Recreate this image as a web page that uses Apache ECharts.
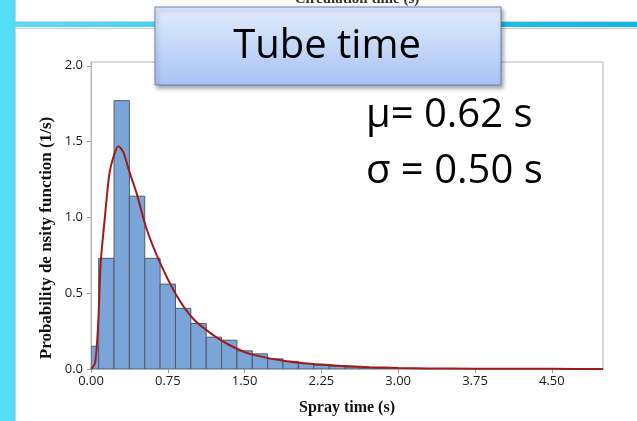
<!DOCTYPE html>
<html>
<head>
<meta charset="utf-8">
<script src="https://cdn.jsdelivr.net/npm/echarts@6/dist/echarts.min.js"></script>
<style>
html, body { margin: 0; padding: 0; background: #fff; }
#main { width: 637px; height: 421px; }
</style>
</head>
<body>
<div id="main"></div>
<script>
// histogram bins: left / right edges (s) and density (1/s)
var binLeft  = [0, 0.075, 0.225, 0.375, 0.525, 0.675, 0.825, 0.975, 1.125, 1.275, 1.425, 1.575,
                1.725, 1.875, 2.025, 2.175, 2.325, 2.475, 2.625, 2.775, 2.925, 3.075, 3.225];
var binRight = [0.075, 0.225, 0.375, 0.525, 0.675, 0.825, 0.975, 1.125, 1.275, 1.425, 1.575, 1.725,
                1.875, 2.025, 2.175, 2.325, 2.475, 2.625, 2.775, 2.925, 3.075, 3.225, 3.375];
var density  = [0.15, 0.73, 1.77, 1.14, 0.73, 0.56, 0.40, 0.30, 0.21, 0.19, 0.12, 0.10,
                0.067, 0.05, 0.036, 0.025, 0.017, 0.012, 0.006, 0.004, 0.003, 0.002, 0.001];

// fitted curve
var curveX = [0.0, 0.04, 0.07, 0.095, 0.137, 0.18, 0.22, 0.267, 0.315, 0.38, 0.445, 0.545,
              0.675, 0.84, 1.0, 1.2, 1.36, 1.55, 1.85, 2.14, 2.43, 2.72, 3.0, 3.3, 3.75, 4.5, 5.0];
var curveY = [0.0, 0.04, 0.30, 0.70, 1.01, 1.29, 1.40, 1.47, 1.43, 1.29, 1.16, 0.92,
              0.70, 0.48, 0.33, 0.22, 0.155, 0.10, 0.058, 0.034, 0.021, 0.012, 0.007, 0.004, 0.002, 0.001, 0.0005];

var titleText = 'Tube time';
var statLines = ['\u03bc= 0.62 s', '\u03c3 = 0.50 s'];

var bars = binLeft.map(function (l, i) { return [l, binRight[i], density[i]]; });
var curve = curveX.map(function (x, i) { return [x, curveY[i]]; });

var chart = echarts.init(document.getElementById('main'));

var tickFont = { color: '#1a1a1a', fontSize: 13, fontFamily: 'Open Sans' };

chart.setOption({
    animation: false,
    backgroundColor: '#fff',
    grid: {
        left: 91, right: 34, top: 62, bottom: 51,
        show: true, borderColor: '#b4b4b4', borderWidth: 1
    },
    xAxis: {
        type: 'value',
        min: 0, max: 5, interval: 0.75,
        name: 'Spray time (s)',
        nameLocation: 'middle',
        nameGap: 31,
        nameTextStyle: { fontFamily: 'Liberation Serif', fontWeight: 'bold', fontSize: 16, color: '#111' },
        axisLine: { show: true, lineStyle: { color: '#b4b4b4' } },
        axisTick: { show: true, length: 4, lineStyle: { color: '#9a9a9a' } },
        splitLine: { show: false },
        axisLabel: Object.assign({ margin: 6, showMaxLabel: false,
            formatter: function (v) { return v.toFixed(2); } }, tickFont)
    },
    yAxis: {
        type: 'value',
        min: 0, max: 2.025, interval: 0.5,
        axisLine: { show: true, lineStyle: { color: '#b4b4b4' } },
        axisTick: { show: true, length: 4, lineStyle: { color: '#9a9a9a' } },
        splitLine: { show: false },
        axisLabel: Object.assign({ margin: 8, showMaxLabel: false,
            formatter: function (v) { return v.toFixed(1); } }, tickFont)
    },
    series: [
        {
            type: 'custom',
            clip: true,
            data: bars,
            encode: { x: [0, 1], y: 2 },
            renderItem: function (params, api) {
                var a = api.coord([api.value(0), api.value(2)]);
                var b = api.coord([api.value(1), 0]);
                return {
                    type: 'rect',
                    shape: { x: a[0], y: a[1], width: b[0] - a[0], height: b[1] - a[1] },
                    style: { fill: '#7ba4d8', stroke: '#4e5c6c', lineWidth: 1 }
                };
            }
        },
        {
            type: 'line',
            data: curve,
            showSymbol: false,
            smooth: 0.3,
            z: 5,
            lineStyle: { color: '#a01a1a', width: 2 }
        }
    ],
    graphic: [
        // slide decorations
        { type: 'rect', shape: { x: 0, y: 0, width: 15, height: 421 }, style: { fill: '#55dcf6' }, silent: true },
        { type: 'rect', shape: { x: 15, y: 0, width: 1, height: 421 }, style: { fill: '#d0d0d0' }, silent: true },
        { type: 'rect', shape: { x: 15, y: 21, width: 622, height: 1 }, style: { fill: '#cfcfcf' }, silent: true },
        {
            type: 'rect', shape: { x: 15, y: 22, width: 622, height: 5 }, silent: true,
            style: { fill: new echarts.graphic.LinearGradient(0, 0, 1, 0, [
                { offset: 0, color: '#5cdaf4' }, { offset: 1, color: '#12b6e0' }]) }
        },
        { type: 'rect', shape: { x: 15, y: 28, width: 622, height: 1 }, style: { fill: '#cfcfcf' }, silent: true },
        {
            type: 'text', x: 357, y: -1, silent: true,
            style: { text: 'Circulation time (s)', align: 'center', verticalAlign: 'middle',
                     font: 'bold 15px "Liberation Serif"', fill: '#333' }
        },
        // title box
        {
            type: 'rect', shape: { x: 155, y: 7, width: 346, height: 78 }, silent: true, z: 10,
            style: {
                fill: new echarts.graphic.LinearGradient(0, 0, 0, 1, [
                    { offset: 0, color: '#e3ecfc' }, { offset: 1, color: '#a8c3f4' }]),
                stroke: '#6384c2', lineWidth: 1,
                shadowBlur: 4, shadowOffsetX: 2, shadowOffsetY: 3, shadowColor: 'rgba(0,0,0,0.35)'
            }
        },
        {
            type: 'text', x: 327, y: 47, silent: true, z: 11,
            style: { text: titleText, align: 'center', verticalAlign: 'middle',
                     font: '40px "Open Sans"', fill: '#000' }
        },
        // stats
        {
            type: 'text', x: 366, y: 116, silent: true, z: 11,
            style: { text: statLines[0], align: 'left', verticalAlign: 'middle',
                     font: '40px "Open Sans"', fill: '#000' }
        },
        {
            type: 'text', x: 366, y: 172, silent: true, z: 11,
            style: { text: statLines[1], align: 'left', verticalAlign: 'middle',
                     font: '40px "Open Sans"', fill: '#000' }
        },
        // y axis name
        {
            type: 'text', x: 47, y: 238, rotation: Math.PI / 2, silent: true,
            style: { text: 'Probability de nsity function (1/s)', align: 'center', verticalAlign: 'middle',
                     font: 'bold 17px "Liberation Serif"', fill: '#111' }
        }
    ]
});
</script>
</body>
</html>
